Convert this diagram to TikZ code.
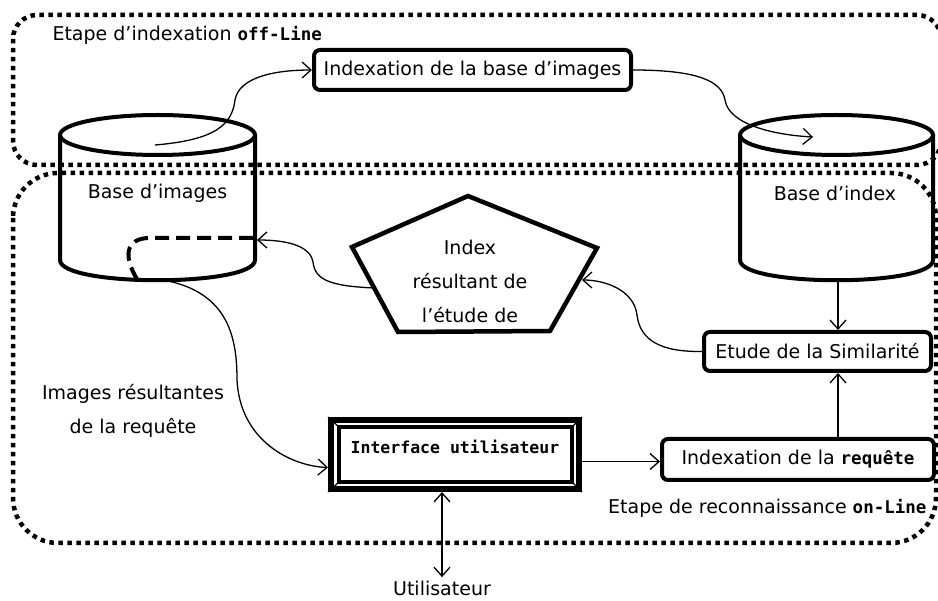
\documentclass[tikz,border=0pt]{standalone}
\usepackage{fontspec}
\setmainfont{DejaVu Sans}
\setmonofont{DejaVu Sans Mono}
\usetikzlibrary{arrows.meta}
\newcommand{\bmono}[1]{{\fontsize{17.5}{20}\selectfont\ttfamily\bfseries #1}}

\begin{document}
\begin{tikzpicture}[x=1pt,y=-1pt,
    >={Straight Barb[length=9pt,width=16pt]},
    every node/.style={font=\fontsize{19}{34}\selectfont},
    etape/.style={line width=4.5pt,dash pattern=on 4.5pt off 4.5pt},
    cyl/.style={line width=4pt},
    boite/.style={draw,line width=4pt,rounded corners=6pt},
    lien/.style={line width=1.3pt}]
                        \useasboundingbox (0,0) rectangle (938,601);
                        % Etapes
                        \draw[etape,rounded corners=24pt] (13,15) rectangle (941,165);
                        \draw[etape,rounded corners=45pt] (13,173) rectangle (936,543);
                        \node[anchor=west] (L1) at (49,35) {Etape d’indexation \bmono{off-Line}};
                        \node[anchor=east] (L2) at (930,508) {Etape de reconnaissance \bmono{on-Line}};
                        % Base d'images
                        \draw[cyl] (157.5,135) ellipse [x radius=97.5pt,y radius=20pt];
                        \draw[cyl] (60,135) -- (60,260) .. controls (60,287) and (255,287) .. (255,260) -- (255,135);
                        \node (BI) at (157.5,193) {Base d’images};
                        \coordinate (BI-top) at (155,145);
                        \coordinate (BI-r) at (257,240);
                        \coordinate (BI-b) at (163,280);
                        \draw[line width=4pt,dash pattern=on 14pt off 7pt] (253,238) -- (150,238) .. controls (124,238) and (124,258) .. (137,279);
                        % Base d'index
                        \draw[cyl] (836.5,135) ellipse [x radius=96.5pt,y radius=20pt];
                        \draw[cyl] (740,135) -- (740,260) .. controls (740,287) and (933,287) .. (933,260) -- (933,135);
                        \node (BX) at (835,193) {Base d’index};
                        \coordinate (BX-top) at (813,137);
                        \coordinate (BX-b) at (838,281);
                        % Index
                        \coordinate (P1) at (468,196);
                        \coordinate (P2) at (597,248);
                        \coordinate (P3) at (550,331);
                        \coordinate (P4) at (398,332);
                        \coordinate (P5) at (352,247);
                        \draw[line width=4.5pt] (P1) -- (P2) -- (P3) -- (P4) -- (P5) -- cycle;
                        \node[align=center] (IX) at (470,281) {Index\\résultant de\\l’étude de};
                        \coordinate (P-l) at (374,288);
                        \coordinate (P-r) at (582,280);
                        % Boites
                        \node[boite,minimum width=317pt,minimum height=40pt] (IB) at (472.5,70) {Indexation de la base d’images};
                        \node[boite,minimum width=227pt,minimum height=39pt] (ES) at (817.5,351.5) {Etude de la Similarité};
                        \node[boite,minimum width=272pt,minimum height=41pt] (IR) at (798,459.5) {Indexation de la \bmono{requête}};
                        % Interface
                        \node[draw,line width=4pt,minimum width=250pt,minimum height=71pt] (IU) at (455,454.5) {};
                        \draw[line width=1.2pt] ([shift={(5pt,-5pt)}]IU.north west) rectangle ([shift={(-5pt,5pt)}]IU.south east);
                        \draw[line width=4.5pt] ([shift={(11pt,-10pt)}]IU.north west) rectangle ([shift={(-10pt,10pt)}]IU.south east);
                        \foreach \c/\dx/\dy in {north west/11/-10,north east/-10/-10,south west/11/10,south east/-10/10}
                            \draw[line width=1.2pt] (IU.\c) -- ([shift={(\dx pt,\dy pt)}]IU.\c);
                        \node (IUt) at (455,447) {{\fontsize{16.5}{20}\selectfont\ttfamily\bfseries Interface utilisateur}};
                        \node (U) at (442,588) {Utilisateur};
                        \node[align=center] (IRq) at (133,411) {Images résultantes\\de la requête};
                        % liens
                        \draw[lien,->] (BI-top) .. controls (215,140) and (232,125) .. (235,100) .. controls (239,77) and (275,70) .. (IB.west);
                        \draw[lien,->] (IB.east) .. controls (700,70) and (722,82) .. (725,100) .. controls (729,125) and (775,135) .. (BX-top);
                        \draw[lien,->] (P-l) .. controls (330,286) and (315,280) .. (313,262) .. controls (310,245) and (285,240) .. (BI-r);
                        \draw[lien,->] (ES.west) .. controls (660,352) and (640,340) .. (637,315) .. controls (634,290) and (605,280) .. (P-r);
                        \draw[lien,->] (BX-b) -- (BX-b |- ES.north);
                        \draw[lien,->] (IR.north -| BX-b) -- (BX-b |- ES.south);
                        \draw[lien,->] ([yshift=-7pt]IU.east) -- ([yshift=-7pt]IU.east -| IR.west);
                        \draw[lien,->] (BI-b) .. controls (230,292) and (237,340) .. (237,380) .. controls (240,440) and (290,466) .. ([yshift=-13pt]IU.west);
                        \draw[lien,<->] (IU.south -| U.north) -- (U.north);
                    \end{tikzpicture}
\end{document}
